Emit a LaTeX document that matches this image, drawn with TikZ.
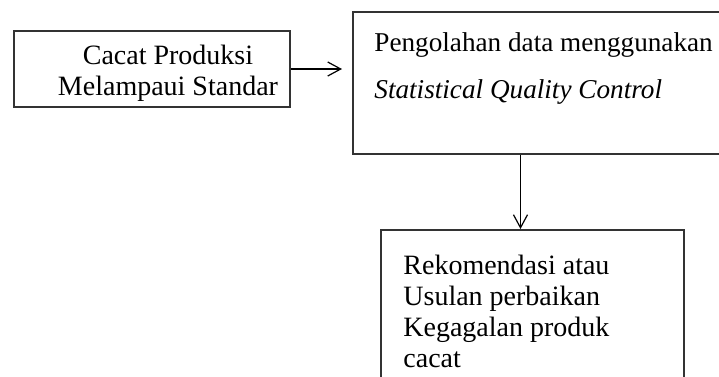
\documentclass[tikz,border=0pt]{standalone}
\usepackage{fontspec}
\setmainfont{Liberation Serif}
\usetikzlibrary{arrows.meta, positioning}

\begin{document}
\begin{tikzpicture}[
    x=0.5pt, y=-0.5pt,
    font=\fontsize{14}{15.5}\selectfont,
    box/.style={draw=black!80, line width=1pt, inner sep=0pt, anchor=north west},
    txt/.style={align=left, inner sep=0pt, anchor=north west},
    arr/.style={-{Straight Barb[length=6.5pt, width=7pt]}, line width=0.6pt}
  ]
  \clip (0,0) rectangle (719,376);

  \node[box, minimum width=138pt, minimum height=38pt] (cacat) at (13,30) {};
  \node[box, minimum width=200pt, minimum height=71pt] (olah) at (352,11) {};
  \node[box, minimum width=151.5pt, minimum height=90pt] (rek) at (380,229) {};

  \node[align=center, inner sep=0pt, xshift=8pt, yshift=-2pt] (cacattxt)
    at (cacat.center) {Cacat Produksi\\Melampaui Standar};
  \node[txt, font=\fontsize{13.6}{23.5}\selectfont,
    below right=10.5pt and 11pt of olah.north west] (olahtxt)
    {Pengolahan data menggunakan\\\textit{Statistical Quality Control}};
  \node[txt, below right=13pt and 11.5pt of rek.north west] (rektxt)
    {Rekomendasi atau\\Usulan perbaikan\\Kegagalan produk\\cacat};

  \draw[arr, shorten >=5pt] (cacat.east) -- (cacat.east -| olah.west);
  \draw[arr] ([xshift=-6pt]rek.north |- olah.south) -- ([xshift=-6pt]rek.north);
\end{tikzpicture}
\end{document}
